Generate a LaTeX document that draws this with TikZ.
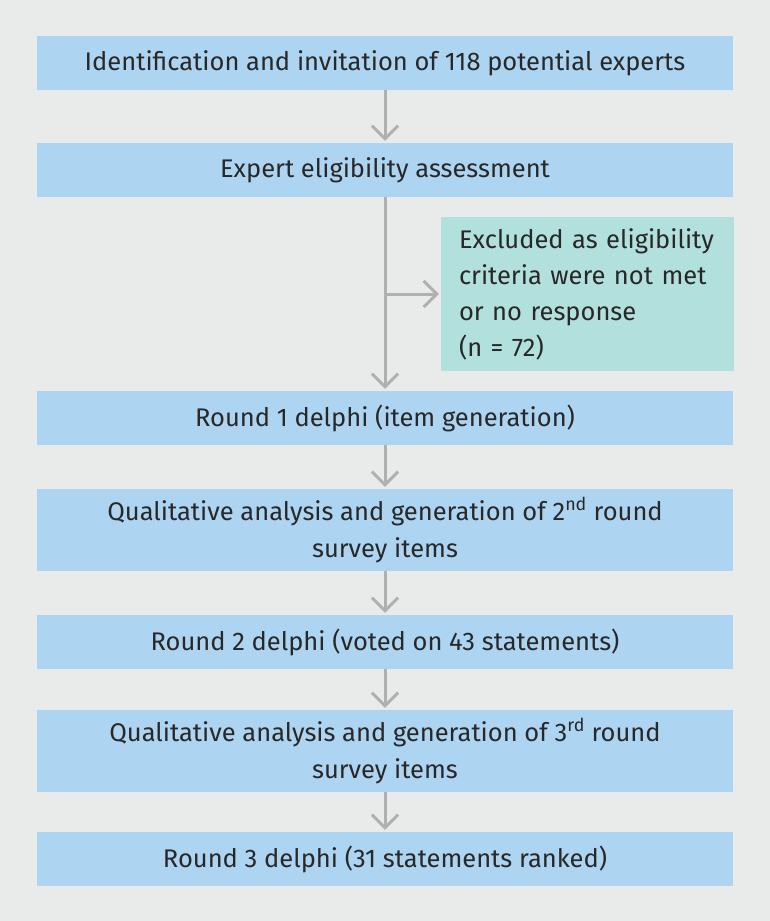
\documentclass[tikz,border=0pt]{standalone}
\usepackage{fontspec}
\setmainfont{Fira Sans}
\usepackage{tikz}
\usetikzlibrary{arrows.meta}
\definecolor{bgGray}{RGB}{233,235,235}
\definecolor{boxBlue}{RGB}{173,212,240}
\definecolor{boxGreen}{RGB}{178,224,220}
\definecolor{arrGray}{RGB}{176,176,176}
\definecolor{txtDark}{RGB}{40,40,40}

\begin{document}
\begin{tikzpicture}[x=1pt,y=-1pt,
  stage/.style={fill=boxBlue, minimum width=696pt, minimum height=54pt, inner sep=0pt,
    align=center, text=txtDark, font=\fontsize{25.5}{37}\selectfont},
  excl/.style={fill=boxGreen, minimum width=293pt, minimum height=154pt, inner xsep=18pt,
    text width=257pt, align=left, text=txtDark, font=\fontsize{25.5}{36}\selectfont},
  flow/.style={draw=arrGray, line width=3pt, shorten >=2pt,
    -{Straight Barb[length=13pt, width=26pt, line width=3pt]}}]
%%% background and margins
\fill[bgGray] (0,0) rectangle (770,921);
%%% The stages of the delphi process
\node[stage] (ident) at (385,63) {Identification and invitation of 118 potential experts};
\node[stage] (elig) at (385,170) {Expert eligibility assessment};
\node[excl] (excluded) at (587.5,294) {Excluded as eligibility\\criteria were not met\\or no response\\(n = 72)};
\node[stage] (round1) at (385,418) {Round 1 delphi (item generation)};
\node[stage, minimum height=82pt] (qual2) at (385,530) {Qualitative analysis and generation of 2\textsuperscript{nd} round\\survey items};
\node[stage] (round2) at (385,642) {Round 2 delphi (voted on 43 statements)};
\node[stage, minimum height=82pt] (qual3) at (385,751) {Qualitative analysis and generation of 3\textsuperscript{rd} round\\survey items};
\node[stage] (round3) at (385,859) {Round 3 delphi (31 statements ranked)};
%%% The edges between the stages
\draw[flow] (ident) -- (elig);
\draw[flow] (elig) -- (round1);
\coordinate (split) at (elig.south |- excluded.west);
\draw[flow] (split) -- (excluded);
\draw[flow] (round1) -- (qual2);
\draw[flow] (qual2) -- (round2);
\draw[flow] (round2) -- (qual3);
\draw[flow] (qual3) -- (round3);
\end{tikzpicture}
\end{document}
